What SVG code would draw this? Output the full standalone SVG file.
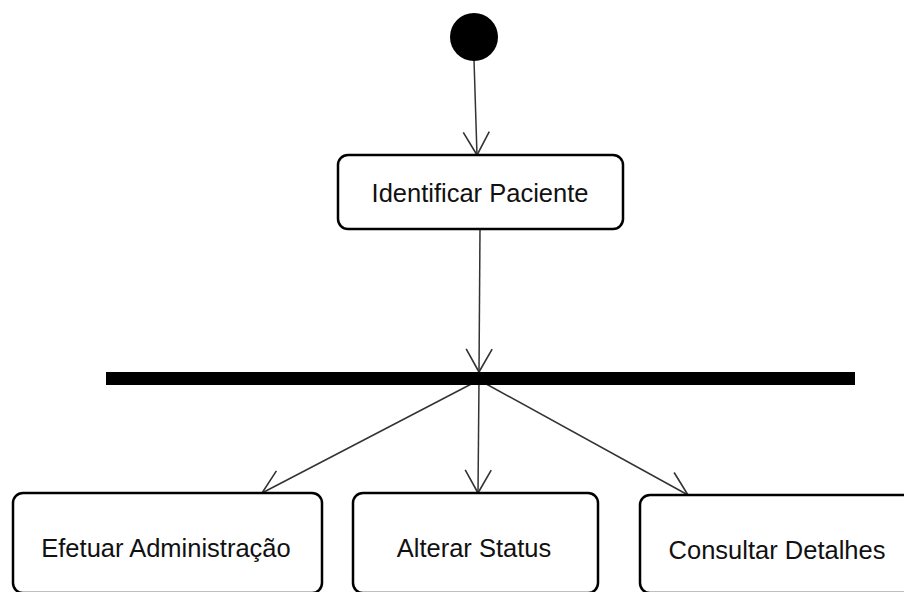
<svg xmlns="http://www.w3.org/2000/svg" width="904" height="592" viewBox="0 0 904 592">
<style>
.box{fill:#fff;stroke:#000;stroke-width:2.5}
.lbl{font-family:"Liberation Sans",Arial,sans-serif;font-size:25.5px;fill:#111;text-anchor:middle}
.edge{fill:none;stroke:#333;stroke-width:1.5;marker-end:url(#arr)}
</style>
<defs>
<marker id="arr" markerUnits="userSpaceOnUse" markerWidth="40" markerHeight="40" viewBox="-30 -20 40 40" refX="0" refY="0" orient="auto">
<path d="M -23 -13 L 0 0 L -23 13" fill="none" stroke="#333" stroke-width="1.6"/>
</marker>
</defs>
<rect width="904" height="592" fill="#fff"/>
<g id="connectors">
<line class="edge" x1="474" y1="60" x2="477" y2="155"/>
<line class="edge" x1="480" y1="229" x2="479" y2="372"/>
<line class="edge" x1="479" y1="380" x2="262" y2="493"/>
<line class="edge" x1="479" y1="380" x2="478" y2="493"/>
<line class="edge" x1="479" y1="380" x2="688" y2="495"/>
</g>
<g id="start"><circle cx="474" cy="37" r="24" fill="#000"/></g>
<g id="fork"><rect x="106" y="372" width="749" height="13" fill="#000"/></g>
<g id="identificar">
<rect class="box" x="338" y="155" width="285" height="74" rx="10"/>
<text class="lbl" x="480" y="202">Identificar Paciente</text>
</g>
<g id="efetuar">
<rect class="box" x="13" y="493" width="309" height="100" rx="10"/>
<text class="lbl" x="166" y="557">Efetuar Administração</text>
</g>
<g id="alterar">
<rect class="box" x="353" y="493" width="245" height="100" rx="10"/>
<text class="lbl" x="474" y="557">Alterar Status</text>
</g>
<g id="consultar">
<rect class="box" x="640" y="495" width="280" height="98" rx="10"/>
<text class="lbl" x="777" y="559">Consultar Detalhes</text>
</g>
</svg>
